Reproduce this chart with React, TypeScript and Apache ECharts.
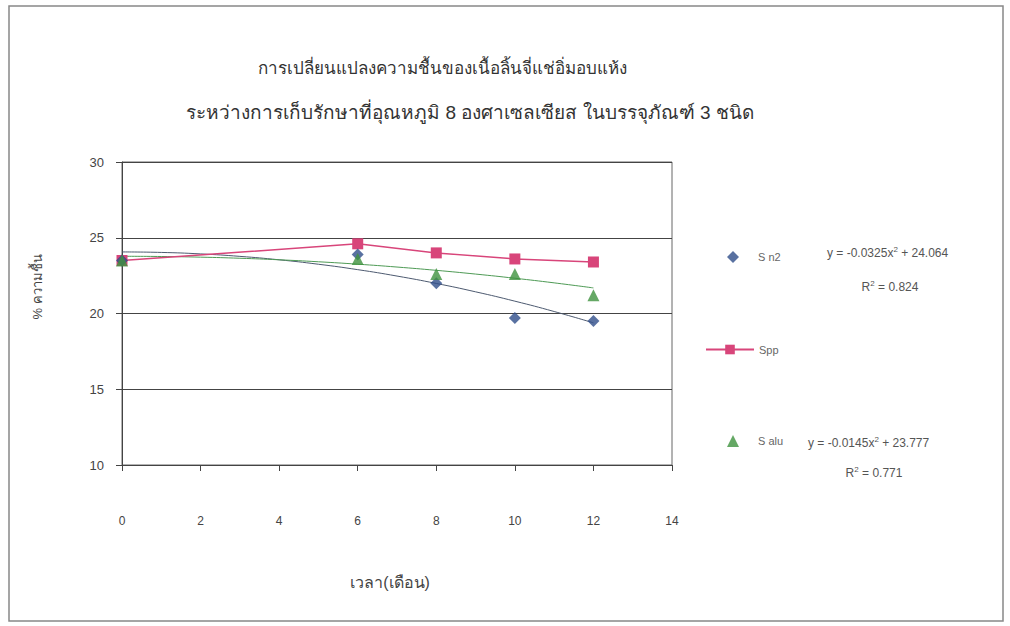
import React, { useEffect, useRef } from "react";
import * as echarts from "echarts";

// Storage time (months)
const months = [0, 6, 8, 10, 12];

// Moisture content (%) for each package type
const sn2 = [23.5, 23.9, 22.0, 19.7, 19.5];
const spp = [23.5, 24.6, 24.0, 23.6, 23.4];
const salu = [23.5, 23.6, 22.6, 22.6, 21.2];

// Polynomial trendlines as reported: y = a*x^2 + c
const sn2Trend = { a: -0.0325, c: 24.064, r2: 0.824 };
const saluTrend = { a: -0.0145, c: 23.777, r2: 0.771 };
const trendSteps = [0, 1, 2, 3, 4, 5, 6, 7, 8, 9, 10, 11, 12];

const yTicks = { min: 10, max: 30, interval: 5 };
const xTicks = { min: 0, max: 14, interval: 2 };

const titleLines = [
  "การเปลี่ยนแปลงความชื้นของเนื้อลิ้นจี่แช่อิ่มอบแห้ง",
  "ระหว่างการเก็บรักษาที่อุณหภูมิ 8 องศาเซลเซียส ในบรรจุภัณฑ์ 3 ชนิด",
];
const xTitle = "เวลา(เดือน)";
const yTitle = "% ความชื้น";

const COL_SN2 = "#2f4d8a";
const COL_SPP = "#d8457a";
const COL_SALU = "#3f923f";

const pair = (xs: number[], ys: number[]) => xs.map((x, i) => [x, ys[i]]);
const curve = (t: { a: number; c: number }) =>
  trendSteps.map((x) => [x, t.a * x * x + t.c]);

export default function App() {
  const ref = useRef<HTMLDivElement>(null);

  useEffect(() => {
    if (!ref.current) return;
    const chart = echarts.init(ref.current, undefined, { renderer: "svg" });
    const txt = "#555";
    const eqSize = 12;
    const eqRich = {
      sup: { fontSize: 8, verticalAlign: "top", padding: [0, 0, 7, 0], fill: txt },
    };
    const eqText = (x: number, y: number, text: string, align = "left") => ({
      type: "text",
      x,
      y,
      style: {
        text,
        fontSize: eqSize,
        fill: txt,
        align,
        verticalAlign: "middle",
        rich: eqRich,
      },
    });
    chart.setOption({
      animation: false,
      backgroundColor: "#fff",
      textStyle: { fontFamily: "Liberation Sans, Arial, sans-serif" },
      grid: {
        left: 122,
        top: 162,
        right: 338,
        bottom: 161,
        show: true,
        borderColor: "#666",
        borderWidth: 1,
      },
      title: [
        {
          text: titleLines[0],
          left: 437,
          top: 55,
          textAlign: "center",
          textStyle: { fontSize: 17, fontWeight: "normal", color: "#333" },
        },
        {
          text: titleLines[1],
          left: 465,
          top: 98,
          textAlign: "center",
          textStyle: { fontSize: 19, fontWeight: "normal", color: "#333" },
        },
      ],
      legend: [
        {
          orient: "vertical",
          left: 722,
          top: 246,
          itemWidth: 12,
          itemHeight: 12,
          itemGap: 172,
          data: ["S n2", "S alu"],
          textStyle: { fontSize: 11, color: "#666", padding: [0, 0, 0, 14] },
        },
        {
          orient: "vertical",
          left: 700,
          top: 339,
          itemWidth: 48,
          itemHeight: 12,
          data: ["Spp"],
          textStyle: { fontSize: 11, color: "#666" },
        },
      ],
      xAxis: {
        type: "value",
        min: xTicks.min,
        max: xTicks.max,
        interval: xTicks.interval,
        axisLine: { show: true, lineStyle: { color: "#444", width: 1 } },
        axisTick: { show: true, length: 6, lineStyle: { color: "#444" } },
        axisLabel: { margin: 50, fontSize: 12, color: "#444" },
        splitLine: { show: false },
      },
      yAxis: {
        type: "value",
        min: yTicks.min,
        max: yTicks.max,
        interval: yTicks.interval,
        axisLine: { show: true, lineStyle: { color: "#444", width: 1 } },
        axisTick: { show: true, length: 6, lineStyle: { color: "#444" } },
        axisLabel: { margin: 18, fontSize: 13, color: "#444" },
        splitLine: { show: true, lineStyle: { color: "#444", width: 1 } },
      },
      series: [
        {
          name: "S n2 trend",
          type: "line",
          data: curve(sn2Trend),
          smooth: true,
          symbol: "none",
          lineStyle: { color: "#4d5a70", width: 1 },
          z: 2,
        },
        {
          name: "S alu trend",
          type: "line",
          data: curve(saluTrend),
          smooth: true,
          symbol: "none",
          lineStyle: { color: "#4e9a55", width: 1 },
          z: 2,
        },
        {
          name: "Spp",
          type: "line",
          data: pair(months, spp),
          symbol: "rect",
          symbolSize: 11,
          itemStyle: { color: COL_SPP },
          lineStyle: { color: COL_SPP, width: 1.5 },
          z: 3,
        },
        {
          name: "S n2",
          type: "scatter",
          data: pair(months, sn2),
          symbol: "diamond",
          symbolSize: 12,
          itemStyle: { color: COL_SN2 },
          z: 4,
        },
        {
          name: "S alu",
          type: "scatter",
          data: pair(months, salu),
          symbol: "triangle",
          symbolSize: 12,
          itemStyle: { color: COL_SALU },
          z: 5,
        },
      ],
      graphic: [
        {
          type: "rect",
          shape: { x: 9, y: 6, width: 994, height: 615 },
          style: { fill: "none", stroke: "#888", lineWidth: 1.5 },
          silent: true,
        },
        {
          type: "text",
          x: 37,
          y: 287,
          rotation: Math.PI / 2,
          style: {
            text: yTitle,
            fontSize: 13,
            fill: "#444",
            align: "center",
            verticalAlign: "middle",
          },
        },
        {
          type: "text",
          x: 390,
          y: 582,
          style: {
            text: xTitle,
            fontSize: 16,
            fill: "#444",
            align: "center",
            verticalAlign: "middle",
          },
        },
        eqText(827, 253, `y = ${sn2Trend.a}x{sup|2} + ${sn2Trend.c}`),
        eqText(890, 287, `R{sup|2} = ${sn2Trend.r2}`, "center"),
        eqText(808, 443, `y = ${saluTrend.a}x{sup|2} + ${saluTrend.c}`),
        eqText(874, 473, `R{sup|2} = ${saluTrend.r2}`, "center"),
      ],
    });
    return () => chart.dispose();
  }, []);

  return (
    <div
      ref={ref}
      style={{ position: "fixed", left: 0, top: 0, width: 1010, height: 626 }}
    />
  );
}
